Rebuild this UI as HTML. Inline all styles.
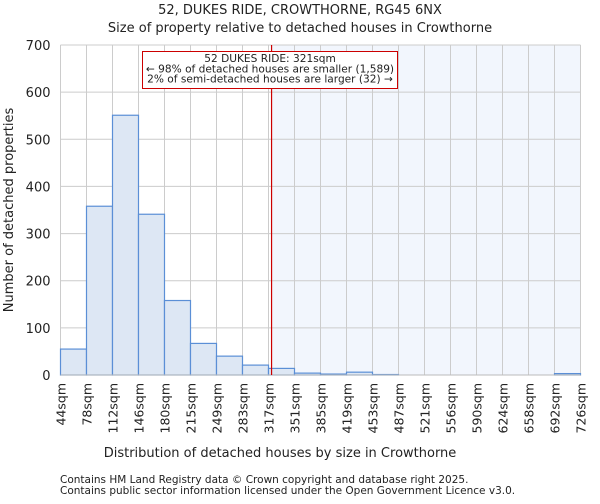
<!DOCTYPE html>
<html><head><meta charset="utf-8"><style>
body{margin:0;background:#fff;font-family:"DejaVu Sans","Liberation Sans",sans-serif;}
svg text{font-family:"DejaVu Sans","Liberation Sans",sans-serif;fill:#222;}
</style></head><body>
<svg id="chart" width="600" height="500" viewBox="0 0 600 500" xmlns="http://www.w3.org/2000/svg">
<text x="300" y="14" text-anchor="middle" font-size="13">52, DUKES RIDE, CROWTHORNE, RG45 6NX</text>
<text x="300" y="32" text-anchor="middle" font-size="13">Size of property relative to detached houses in Crowthorne</text>
<g id="grid"></g><g id="bars"></g><g id="axes"></g>
<text x="280" y="457" text-anchor="middle" font-size="13">Distribution of detached houses by size in Crowthorne</text>
<text transform="translate(13,210) rotate(-90)" text-anchor="middle" font-size="13">Number of detached properties</text>
<text x="60" y="483" font-size="10.5" fill="#555">Contains HM Land Registry data © Crown copyright and database right 2025.</text>
<text x="60" y="494" font-size="10.5" fill="#555">Contains public sector information licensed under the Open Government Licence v3.0.</text>
</svg>
<script>
const categories=["44sqm","78sqm","112sqm","146sqm","180sqm","215sqm","249sqm","283sqm","317sqm","351sqm","385sqm","419sqm","453sqm","487sqm","521sqm","556sqm","590sqm","624sqm","658sqm","692sqm","726sqm"];
const binEdges=[44,78,112,146,180,215,249,283,317,351,385,419,453,487,521,556,590,624,658,692,726];
const counts=[55,358,551,341,158,67,40,21,14,4,2,6,1,0,0,0,0,0,0,3];
const yTicks=[0,100,200,300,400,500,600,700];
const markerValue=321;
const NS="http://www.w3.org/2000/svg";
const L=60.5,R=580.5,T=45,B=375;
const nb=counts.length;
const x=i=>L+(R-L)*i/nb;
const xv=v=>{for(let i=0;i<binEdges.length-1;i++){if(v<=binEdges[i+1])return x(i)+(v-binEdges[i])/(binEdges[i+1]-binEdges[i])*(x(i+1)-x(i));}return R;};
const y=v=>B-(B-T)*v/700;
function mk(tag,attrs,parent){const e=document.createElementNS(NS,tag);for(const k in attrs)e.setAttribute(k,attrs[k]);parent.appendChild(e);return e;}
const grid=document.getElementById('grid'),bars=document.getElementById('bars'),axes=document.getElementById('axes');
const mx=xv(markerValue);
const hl=mk('rect',{x:mx,y:T,width:R-mx,height:B-T,fill:'#f2f6fd'},grid);


yTicks.forEach(t=>{
 const g=mk('line',{x1:L,x2:R,y1:y(t),y2:y(t),stroke:'#ccc','stroke-width':1},grid);
 
 
 const tx=mk('text',{x:L-10,y:y(t)+5,'text-anchor':'end','font-size':13},axes);
 tx.textContent=t;
 
 
});
categories.forEach((c,i)=>{
 const g=mk('line',{x1:x(i),x2:x(i),y1:T,y2:B,stroke:'#ccc','stroke-width':1},grid);
 
 
 const tx=mk('text',{transform:`translate(${x(i)+5},${B+8}) rotate(-90)`,'text-anchor':'end','font-size':12.5},axes);
 tx.textContent=c;
 
 
});
counts.forEach((v,i)=>{
 if(v<=0)return;
 const r=mk('rect',{x:x(i),y:y(v),width:x(i+1)-x(i),height:B-y(v),fill:'#dde7f4',stroke:'#5b8fd6','stroke-width':1.2},bars);
 
 
});
const ax=mk('line',{x1:L,x2:R,y1:B,y2:B,stroke:'#bbb','stroke-width':1},axes);


const ml=mk('line',{x1:mx,x2:mx,y1:T,y2:B,stroke:'#c00','stroke-width':1.2},axes);


const box=mk('rect',{x:142.5,y:51.5,width:255,height:37,fill:'#fff',stroke:'#c00','stroke-width':1},axes);


["52 DUKES RIDE: 321sqm","← 98% of detached houses are smaller (1,589)","2% of semi-detached houses are larger (32) →"].forEach((s,k)=>{
 const t=mk('text',{x:270,y:62+k*10.3,'text-anchor':'middle','font-size':10.6},axes);
 t.textContent=s;
 
 
});
</script>
</body></html>
